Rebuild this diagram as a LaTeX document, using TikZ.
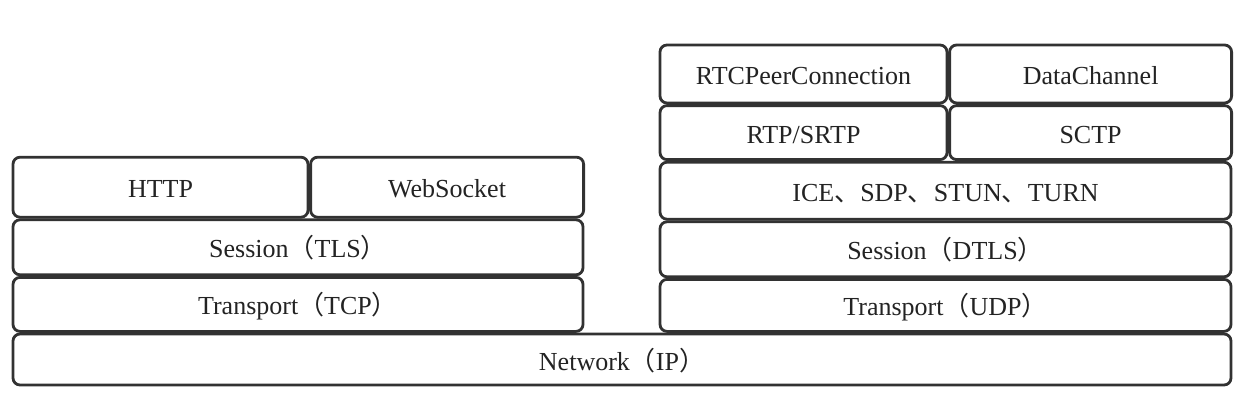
\documentclass[tikz,border=0pt]{standalone}
\usepackage{fontspec}
\setmainfont{Liberation Serif}
\newfontfamily\cjk{Noto Sans CJK SC}
\definecolor{myline}{RGB}{50,50,50}
\definecolor{mytext}{RGB}{35,35,35}
\usetikzlibrary{positioning}

\begin{document}
\begin{tikzpicture}[x=1pt,y=-1pt,
    every node/.style={draw=myline,line width=2.8pt,rounded corners=7pt,
      inner sep=0pt,outer sep=1.3pt,text=mytext,text height=21pt,text depth=0pt,
      font=\fontsize{26}{30}\selectfont},
    leftnode/.style={minimum width=570pt},
    rightnode/.style={minimum width=571pt},
    node distance=0pt
    ]
    \useasboundingbox (0,0) rectangle (1252,420);

    \node (net) [minimum width=1218pt,minimum height=51pt] at (622,359.5) {Network{\cjk （}IP{\cjk ）}};

    % the browser stack
    \node (tcp) [leftnode,minimum height=54pt,above right=0pt and 0pt of net.north west] {Transport{\cjk （}TCP{\cjk ）}};
    \node (tls) [leftnode,minimum height=55pt,above=of tcp] {Session{\cjk （}TLS{\cjk ）}};
    \node (http) [minimum width=295pt,minimum height=60pt,above right=0pt and 0pt of tls.north west] {HTTP};
    \node (ws) [minimum width=273pt,minimum height=60pt,right=of http] {WebSocket};

    % the webrtc stack
    \node (udp) [rightnode,minimum height=52pt,above left=0pt and 0pt of net.north east] {Transport{\cjk （}UDP{\cjk ）}};
    \node (dtls) [rightnode,minimum height=55pt,above=of udp] {Session{\cjk （}DTLS{\cjk ）}};
    \node (ice) [rightnode,minimum height=57pt,above=of dtls] {ICE{\cjk 、}SDP{\cjk 、}STUN{\cjk 、}TURN};
    \node (rtp) [minimum width=287pt,minimum height=54pt,above right=0pt and 0pt of ice.north west] {RTP/SRTP};
    \node (sctp) [minimum width=282pt,minimum height=54pt,right=of rtp] {SCTP};
    \node (pc) [minimum width=287pt,minimum height=58pt,above=of rtp] {RTCPeerConnection};
    \node (dc) [minimum width=282pt,minimum height=58pt,above=of sctp] {DataChannel};
\end{tikzpicture}
\end{document}
